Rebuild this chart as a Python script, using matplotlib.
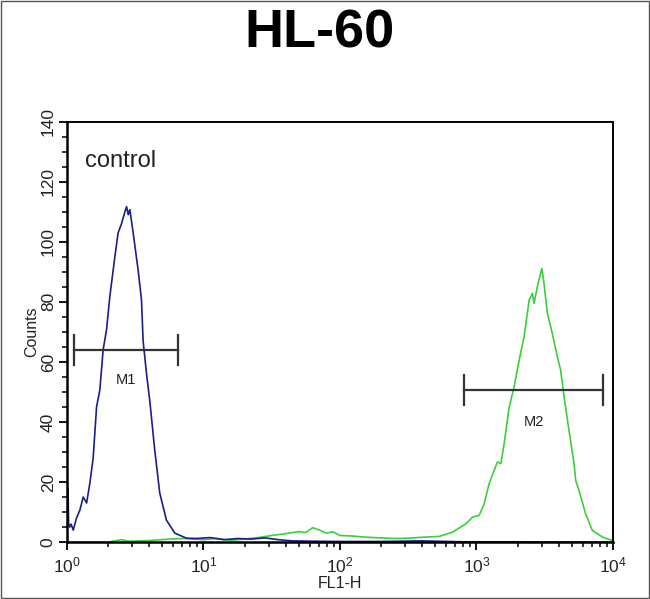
import matplotlib
matplotlib.use("Agg")
import matplotlib.pyplot as plt
from matplotlib.ticker import LogLocator, LogFormatterMathtext, MultipleLocator, NullFormatter
import numpy as np

plt.rcParams["font.family"] = ["Liberation Sans", "DejaVu Sans"]
plt.rcParams["mathtext.fontset"] = "custom"
plt.rcParams["mathtext.rm"] = "Liberation Sans"
plt.rcParams["mathtext.it"] = "Liberation Sans"
plt.rcParams["mathtext.bf"] = "Liberation Sans:bold"

# control histogram (blue): log10(FL1-H) and counts
control_log = [0.000, 0.004, 0.008, 0.012, 0.020, 0.030, 0.046, 0.070, 0.095, 0.119,
               0.144, 0.168, 0.192, 0.217, 0.241, 0.265, 0.290, 0.314, 0.351, 0.375,
               0.400, 0.412, 0.425, 0.437, 0.449, 0.461, 0.485, 0.521, 0.546, 0.558,
               0.583, 0.607, 0.643, 0.680, 0.729, 0.790, 0.875, 0.95, 1.05, 1.15,
               1.25, 1.35, 1.45, 1.55, 1.65, 1.8, 2.0, 2.3, 2.6, 2.9, 3.3, 3.7, 4.0]
control_counts = [27, 10, 18, 6, 5, 6, 4, 8, 10.7, 15,
                  13, 19.7, 28, 45, 50.7, 64, 70.7, 81.7, 95, 103,
                  106, 108, 110, 111.7, 109, 110.7, 103, 90.7, 80.7, 67,
                  56, 47, 30.7, 16.3, 7.3, 3, 1.3, 1.2, 1.5, 0.8,
                  1.2, 1.0, 1.4, 0.8, 0.4, 0.3, 0.2, 0.2, 0.4, 0.1, 0.1, 0.0, 0.0]

# stained histogram (green)
sample_log = [0.00, 0.30, 0.40, 0.45, 0.60, 0.75, 0.85, 1.00, 1.10, 1.20,
              1.30, 1.40, 1.50, 1.60, 1.70, 1.75, 1.80, 1.85, 1.90, 1.95,
              2.00, 2.10, 2.20, 2.30, 2.40, 2.50, 2.60, 2.728, 2.825, 2.923,
              2.971, 3.020, 3.057, 3.093, 3.130, 3.154, 3.179, 3.203, 3.240, 3.276,
              3.313, 3.349, 3.386, 3.410, 3.422, 3.446, 3.479, 3.495, 3.520, 3.556,
              3.593, 3.617, 3.642, 3.678, 3.715, 3.727, 3.751, 3.800, 3.849, 3.922, 3.993]
sample_counts = [0, 0, 0.8, 0.3, 0.5, 1.0, 1.2, 0.8, 1.2, 0.6,
                 1.0, 1.5, 2.2, 2.8, 3.5, 3.2, 4.8, 4.0, 3.0, 3.4,
                 2.2, 2.0, 1.6, 1.4, 1.2, 1.3, 1.6, 1.9, 3.3, 6.1,
                 8.3, 8.9, 12.8, 19.5, 23.9, 26.7, 26.1, 32.8, 45, 51.7,
                 60.6, 68.3, 80.6, 82.8, 79.5, 85, 91.1, 86.1, 76.1, 69.4,
                 61.7, 57.2, 48.3, 37.2, 26.1, 20.6, 17.2, 9.4, 3.9, 1.7, 0.6]

# markers: (name, left, right, bar height, label height)
marker_names = ["M1", "M2"]
marker_left = [1.125, 815]
marker_right = [6.5, 8500]
marker_y = [64, 50.5]
marker_label_y = [54, 40]

fig = plt.figure(figsize=(6.5, 5.99), dpi=100)
ax = fig.add_axes([0.103, 0.095, 0.840, 0.702])

ax.plot(10 ** np.array(sample_log), sample_counts, color="#3ccf3c", lw=1.2)
ax.plot(10 ** np.array(control_log), control_counts, color="#1c1c8a", lw=1.2)

for name, lo, hi, y, ly in zip(marker_names, marker_left, marker_right, marker_y, marker_label_y):
    ax.plot([lo, hi], [y, y], color="#333333", lw=1.6)
    ax.plot([lo, lo], [y - 5, y + 5], color="#333333", lw=1.6)
    ax.plot([hi, hi], [y - 5, y + 5], color="#333333", lw=1.6)
    ax.text(np.sqrt(lo * hi), ly, name, ha="center", va="center", fontsize=10.5, color="#222222")

ax.text(1.36, 127, "control", fontsize=17, ha="left", va="center", color="#222222")

ax.set_xscale("log")
ax.set_xlim(1, 10000)
ax.set_ylim(0, 140)
ax.xaxis.set_major_locator(LogLocator(base=10, numticks=10))
ax.xaxis.set_major_formatter(LogFormatterMathtext())
ax.xaxis.set_minor_locator(LogLocator(base=10, subs=np.arange(2, 10), numticks=20))
ax.xaxis.set_minor_formatter(NullFormatter())
ax.yaxis.set_major_locator(MultipleLocator(20))
ax.yaxis.set_minor_locator(MultipleLocator(5))

ax.tick_params(axis="both", which="major", direction="out", length=6, width=1.3,
               labelsize=12.5, labelcolor="#222222")
ax.tick_params(axis="both", which="minor", direction="out", length=3.5, width=1.1)
for lab in ax.get_yticklabels():
    lab.set_rotation(90)
    lab.set_va("center")
ax.tick_params(axis="y", pad=2)
ax.tick_params(axis="x", pad=4)

for side in ["left", "bottom"]:
    ax.spines[side].set_linewidth(1.8)
for side in ["top", "right"]:
    ax.spines[side].set_linewidth(1.4)

ax.set_xlabel("FL1-H", fontsize=11.5, labelpad=0, color="#222222")
ax.set_ylabel("Counts", fontsize=11.5, labelpad=1, color="#222222")

fig.text(0.492, 0.944, "HL-60", fontsize=39, fontweight="bold", ha="center", va="center")

fig.patches.append(plt.Rectangle((0.002, 0.002), 0.996, 0.996, transform=fig.transFigure,
                                 fill=False, edgecolor="#555555", lw=1.0))

fig.savefig("out.png", dpi=100)
